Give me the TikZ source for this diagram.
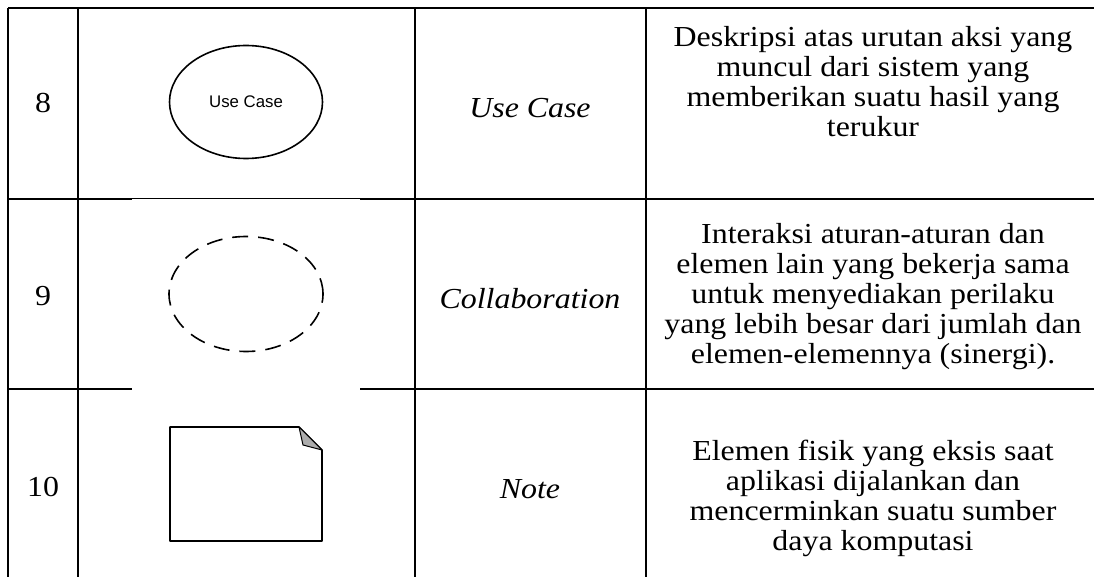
\documentclass[tikz,border=0pt]{standalone}
\usepackage{fontspec}
\setmainfont{Liberation Serif}[FakeStretch=1.1]
\newfontfamily\umlfont{Liberation Sans}
\usetikzlibrary{positioning, shapes.geometric}

\begin{document}
\begin{tikzpicture}[
  x=1pt, y=-1pt,
  font=\fontsize{29}{30}\selectfont,
  tabline/.style={draw=black, line width=2pt},
  thinline/.style={draw=black, line width=1pt},
  numcell/.style={anchor=base, inner sep=0pt},
  namecell/.style={anchor=base, inner sep=0pt, font=\fontsize{29}{30}\selectfont\itshape},
  desccell/.style={align=center, inner sep=0pt},
  umlshape/.style={draw=black, line width=1.6pt}
]
  \useasboundingbox (0,0) rectangle (1094,577);

  % Garis tabel
  \draw[tabline] (8,8) -- (1094,8);
  \foreach \gx in {8, 78, 415, 646}
    \draw[tabline] (\gx,8) -- (\gx,577);
  \draw[tabline] (8,199) -- (132,199);
  \draw[thinline] (132,199) -- (360,199);
  \draw[tabline] (360,199) -- (1094,199);
  \draw[tabline] (8,389) -- (132,389);
  \draw[tabline] (360,389) -- (1094,389);

  % Kolom nomor
  \node[numcell] (no8) at (43,113) {8};
  \node[numcell] (no9) at (43,305) {9};
  \node[numcell] (no10) at (43,496) {10};

  % Kolom simbol
  \node[umlshape, ellipse, minimum width=153pt, minimum height=113pt, inner sep=0pt,
        font=\umlfont\fontsize{16.8}{20}\selectfont] (usecase) at (246,102) {Use Case};
  \node[umlshape, ellipse, dash pattern=on 16pt off 10pt, minimum width=154pt,
        minimum height=115pt] (collab) at (246,294) {};
  \coordinate (notetl) at (170,427);
  \coordinate (notebr) at (322,541);
  \draw[umlshape, line join=round] (notetl) -- (299,427) -- (322,450) -- (notebr) -- (170,541) -- cycle;
  \draw[black, line width=1pt, fill=gray!65, line join=round] (299,427) -- (303,445) -- (322,450) -- cycle;

  % Kolom nama
  \node[namecell] (nmusecase) at (530,118) {Use Case};
  \node[namecell] (nmcollab) at (530,308) {Collaboration};
  \node[namecell] (nmnote) at (530,498) {Note};

  % Kolom keterangan
  \node[desccell] (dsusecase) at (873,82) {Deskripsi atas urutan aksi yang\\muncul dari sistem yang\\memberikan suatu hasil yang\\terukur};
  \node[desccell] (dscollab) at (873,297) {Interaksi aturan-aturan dan\\elemen lain yang bekerja sama\\untuk menyediakan perilaku\\yang lebih besar dari jumlah dan\\elemen-elemennya (sinergi).};
  \node[desccell] (dsnote) at (873,498) {Elemen fisik yang eksis saat\\aplikasi dijalankan dan\\mencerminkan suatu sumber\\daya komputasi};

\end{tikzpicture}
\end{document}
